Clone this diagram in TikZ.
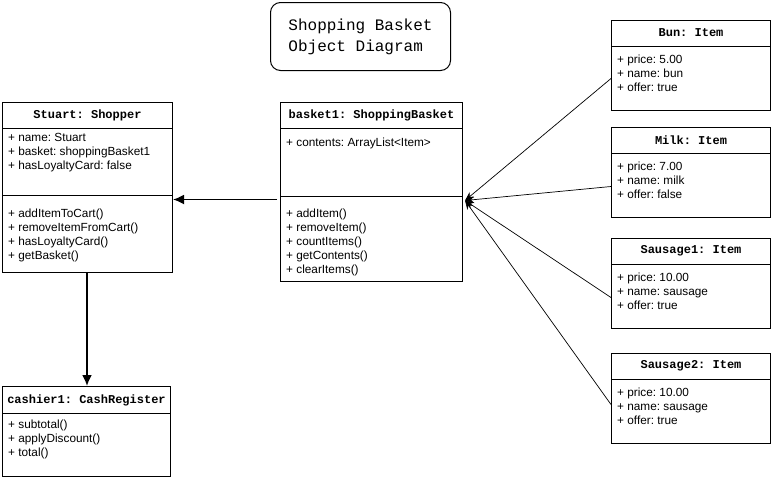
\documentclass[tikz,border=0pt]{standalone}
\usepackage{fontspec}
\setmainfont{Liberation Sans}
\newfontfamily\headfont{Liberation Mono}
\usepackage{tikz}
\usetikzlibrary{arrows.meta,positioning}

\tikzset{
  objbox/.style={draw,line width=1pt,anchor=north west,inner sep=0pt},
  objhead/.style={font=\frenchspacing\headfont\bfseries\fontsize{12}{14}\selectfont,inner sep=0pt},
  objtext/.style={font=\frenchspacing\fontsize{11.8}{14}\selectfont,align=left,anchor=north west,inner sep=0pt},
  bigarrow/.style={line width=1.8pt,-{Latex[length=11pt,width=10pt]}},
  itemarrow/.style={line width=0.7pt,-{Stealth[length=9pt,width=7pt]}},
}

\begin{document}
\begin{tikzpicture}[x=1pt,y=-1pt]
      \useasboundingbox (0,0) rectangle (771,480);

      % title
      \node[draw,line width=1pt,rounded corners=10pt,minimum width=180pt,minimum height=68pt,
            anchor=north west,align=left,font=\frenchspacing\headfont\fontsize{16}{21}\selectfont] (title) at (270,2)
            {Shopping Basket\\Object Diagram};

      % shopper
      \node[objbox,minimum width=170pt,minimum height=170pt] (stuart) at (2,102) {};
      \node[objhead] (stuarthead) at ([yshift=-13pt]stuart.north) {Stuart: Shopper};
      \draw[line width=1pt] ([yshift=-26pt]stuart.north west) -- ([yshift=-26pt]stuart.north east);
      \draw[line width=1pt] ([yshift=-93pt]stuart.north west) -- ([yshift=-93pt]stuart.north east);
      \node[objtext] (stuartattr) at ([xshift=6pt,yshift=-31.5pt]stuart.north west)
            {+ name: Stuart\\+ basket: shoppingBasket1\\+ hasLoyaltyCard: false};
      \node[objtext] (stuartops) at ([xshift=6pt,yshift=-106.5pt]stuart.north west)
            {+ addItemToCart()\\+ removeItemFromCart()\\+ hasLoyaltyCard()\\+ getBasket()};

      % basket
      \node[objbox,minimum width=182pt,minimum height=179pt] (basket) at (280,102) {};
      \node[objhead] (baskethead) at ([yshift=-13pt]basket.north) {basket1: ShoppingBasket};
      \draw[line width=1pt] ([yshift=-26pt]basket.north west) -- ([yshift=-26pt]basket.north east);
      \draw[line width=1pt] ([yshift=-94pt]basket.north west) -- ([yshift=-94pt]basket.north east);
      \node[objtext] (basketattr) at ([xshift=6pt,yshift=-35.5pt]basket.north west)
            {+ contents: ArrayList<Item>};
      \node[objtext] (basketops) at ([xshift=6pt,yshift=-106.5pt]basket.north west)
            {+ addItem()\\+ removeItem()\\+ countItems()\\+ getContents()\\+ clearItems()};

      % cash register
      \node[objbox,minimum width=168pt,minimum height=90pt] (cashier) at (2,386) {};
      \node[objhead] (cashierhead) at ([yshift=-14pt]cashier.north) {cashier1: CashRegister};
      \draw[line width=1pt] ([yshift=-27pt]cashier.north west) -- ([yshift=-27pt]cashier.north east);
      \node[objtext] (cashierops) at ([xshift=6pt,yshift=-33.5pt]cashier.north west)
            {+ subtotal()\\+ applyDiscount()\\+ total()};

      % items
      \node[objbox,minimum width=159pt,minimum height=90pt] (bun) at (611,20) {};
      \node[objhead] at ([yshift=-13pt]bun.north) {Bun: Item};
      \draw[line width=1pt] ([yshift=-26pt]bun.north west) -- ([yshift=-26pt]bun.north east);
      \node[objtext] at ([xshift=6pt,yshift=-34.5pt]bun.north west)
            {+ price: 5.00\\+ name: bun\\+ offer: true};

      \node[objbox,minimum width=159pt,minimum height=90pt] (milk) at (611,127) {};
      \node[objhead] at ([yshift=-13pt]milk.north) {Milk: Item};
      \draw[line width=1pt] ([yshift=-26pt]milk.north west) -- ([yshift=-26pt]milk.north east);
      \node[objtext] at ([xshift=6pt,yshift=-34.5pt]milk.north west)
            {+ price: 7.00\\+ name: milk\\+ offer: false};

      \node[objbox,minimum width=159pt,minimum height=90pt] (sausage1) at (611,238) {};
      \node[objhead] at ([yshift=-13pt]sausage1.north) {Sausage1: Item};
      \draw[line width=1pt] ([yshift=-26pt]sausage1.north west) -- ([yshift=-26pt]sausage1.north east);
      \node[objtext] at ([xshift=6pt,yshift=-34.5pt]sausage1.north west)
            {+ price: 10.00\\+ name: sausage\\+ offer: true};

      \node[objbox,minimum width=159pt,minimum height=90pt] (sausage2) at (611,353) {};
      \node[objhead] at ([yshift=-13pt]sausage2.north) {Sausage2: Item};
      \draw[line width=1pt] ([yshift=-26pt]sausage2.north west) -- ([yshift=-26pt]sausage2.north east);
      \node[objtext] at ([xshift=6pt,yshift=-34.5pt]sausage2.north west)
            {+ price: 10.00\\+ name: sausage\\+ offer: true};

      % links
      \coordinate (basketin) at ([xshift=2pt,yshift=-8.5pt]basket.east);
      \coordinate (basketout) at ([xshift=-3pt,yshift=-7.5pt]basket.west);
      \draw[bigarrow] (basketout) -- (basketout -| stuart.east);
      \draw[bigarrow] ([xshift=-0.5pt]stuart.south) -- ([xshift=-0.5pt]stuart.south |- cashier.north);
      \draw[itemarrow] ([yshift=-13pt]bun.west) -- (basketin);
      \draw[itemarrow] ([yshift=-14pt]milk.west) -- (basketin);
      \draw[itemarrow] ([yshift=-14pt]sausage1.west) -- (basketin);
      \draw[itemarrow] ([yshift=-6pt]sausage2.west) -- (basketin);
     \end{tikzpicture}
\end{document}
